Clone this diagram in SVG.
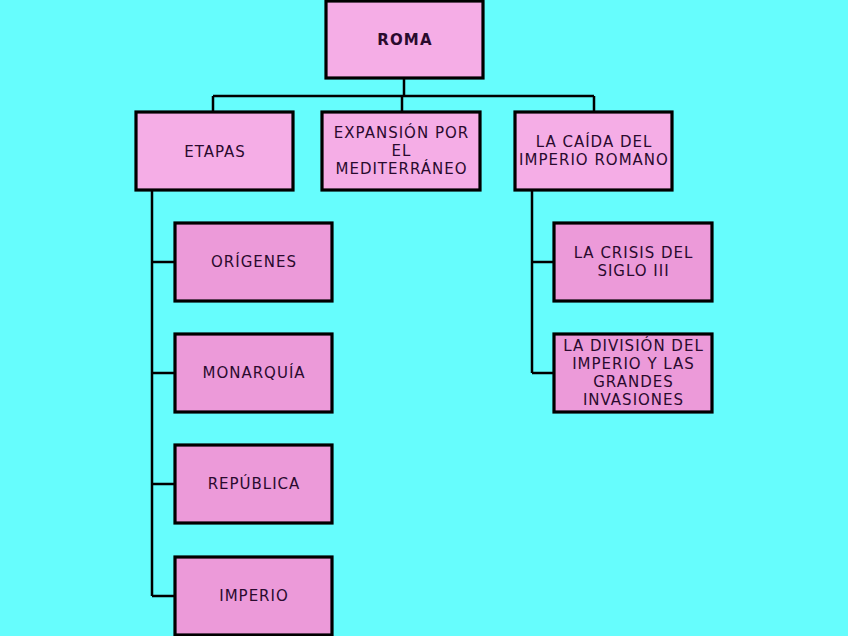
<svg xmlns="http://www.w3.org/2000/svg" width="848" height="636" viewBox="0 0 848 636">
<style>
.b1{fill:#f5ade6;stroke:#000;stroke-width:3.2}
.b2{fill:#ec9ad9;stroke:#000;stroke-width:3.2}
.t{font-family:"DejaVu Sans",sans-serif;font-size:15px;letter-spacing:1px;fill:#2a0a2e;text-anchor:middle}
.c{fill:none;stroke:#000;stroke-width:2.5}
</style>
<rect width="848" height="636" fill="#66fdfd"/>
<g id="connectors">
<path class="c" d="M404,78V96M213,96H594M213,96V112M402,96V112M594,96V112"/>
<path class="c" d="M152,190V596M152,262H175M152,373H175M152,484H175M152,596H175"/>
<path class="c" d="M532,190V373M532,262H554M532,373H554"/>
</g>
<g id="roma"><rect class="b1" x="326" y="1" width="157" height="77"/><text class="t" x="405" y="45" font-weight="bold" style="letter-spacing:1.2px">ROMA</text></g>
<g id="etapas"><rect class="b1" x="136" y="112" width="157" height="78"/><text class="t" x="215" y="157">ETAPAS</text></g>
<g id="expansion"><rect class="b1" x="322" y="112" width="158" height="78"/><text class="t"><tspan x="401.5" y="138">EXPANSIÓN POR</tspan><tspan x="401.5" y="156">EL</tspan><tspan x="401.5" y="174">MEDITERRÁNEO</tspan></text></g>
<g id="caida"><rect class="b1" x="515" y="112" width="157" height="78"/><text class="t"><tspan x="594" y="147">LA CAÍDA DEL</tspan><tspan x="594" y="165">IMPERIO ROMANO</tspan></text></g>
<g id="origenes"><rect class="b2" x="175" y="223" width="157" height="78"/><text class="t" x="254" y="267">ORÍGENES</text></g>
<g id="monarquia"><rect class="b2" x="175" y="334" width="157" height="78"/><text class="t" x="254" y="378">MONARQUÍA</text></g>
<g id="republica"><rect class="b2" x="175" y="445" width="157" height="78"/><text class="t" x="254" y="489">REPÚBLICA</text></g>
<g id="imperio"><rect class="b2" x="175" y="557" width="157" height="78"/><text class="t" x="254" y="601">IMPERIO</text></g>
<g id="crisis"><rect class="b2" x="554" y="223" width="158" height="78"/><text class="t"><tspan x="633.5" y="258">LA CRISIS DEL</tspan><tspan x="633.5" y="276">SIGLO III</tspan></text></g>
<g id="division"><rect class="b2" x="554" y="334" width="158" height="78"/><text class="t"><tspan x="633.5" y="351">LA DIVISIÓN DEL</tspan><tspan x="633.5" y="369">IMPERIO Y LAS</tspan><tspan x="633.5" y="387">GRANDES</tspan><tspan x="633.5" y="405">INVASIONES</tspan></text></g>
</svg>
